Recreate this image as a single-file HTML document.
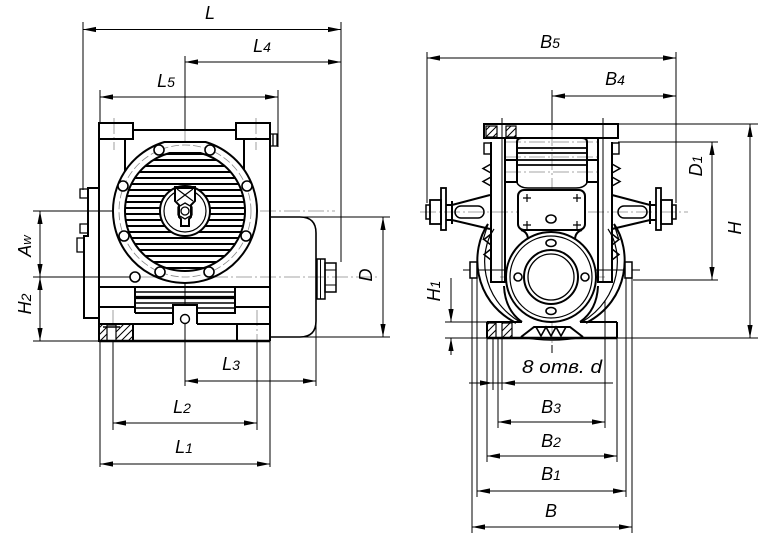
<!DOCTYPE html>
<html><head><meta charset="utf-8"><style>
html,body{margin:0;padding:0;background:#fff;}
svg{display:block;}
text{font-family:"Liberation Sans","DejaVu Sans",sans-serif;font-style:italic;fill:#000;stroke:none;font-size:18px;}
</style></head><body>
<svg width="760" height="536" viewBox="0 0 760 536" xmlns="http://www.w3.org/2000/svg">
<defs>
<marker id="a" markerUnits="userSpaceOnUse" markerWidth="14" markerHeight="6" refX="13" refY="3" orient="auto-start-reverse"><path d="M0,0.4 L13,3 L0,5.6 Z" fill="#000"/></marker>
<pattern id="hp" patternUnits="userSpaceOnUse" width="7" height="7"><path d="M0,7 L7,0 M-1,1 L1,-1 M6,8 L8,6" stroke="#000" stroke-width="1"/></pattern>
<clipPath id="fc"><path d="M169.6,153 H200.4 A60,60 0 1,1 169.6,153 Z"/></clipPath>
</defs>
<rect width="760" height="536" fill="#fff"/>

<!-- ================= LEFT VIEW ================= -->
<g fill="none" stroke="#888" stroke-width="0.8" stroke-dasharray="16,3,2,3">
<path d="M140,211H335"/>
<path d="M140,277H380"/>
<path d="M185,130V283"/>
<path d="M114,118V150M256,118V150"/>
<path d="M113,310V341M257,310V341"/>
</g>
<g fill="none" stroke="#000" stroke-width="1">
<path d="M83,22V190M341,22V262"/>
<path d="M83,29.5H341" marker-start="url(#a)" marker-end="url(#a)"/>
<path d="M185,56V130M185,283V386"/>
<path d="M185,62H341" marker-start="url(#a)" marker-end="url(#a)"/>
<path d="M100,90V123M278,90V147"/>
<path d="M100,97H278" marker-start="url(#a)" marker-end="url(#a)"/>
<path d="M33,211H140M33,277H140M33,341H99"/>
<path d="M40,211V277" marker-start="url(#a)" marker-end="url(#a)"/>
<path d="M40,277V341" marker-start="url(#a)" marker-end="url(#a)"/>
<path d="M300,217H390M300,337H390"/>
<path d="M383,217V337" marker-start="url(#a)" marker-end="url(#a)"/>
<path d="M316,321V386"/>
<path d="M185,381H316" marker-start="url(#a)" marker-end="url(#a)"/>
<path d="M113,341V430M257,341V430"/>
<path d="M113,423H257" marker-start="url(#a)" marker-end="url(#a)"/>
<path d="M100,341V467M270,341V467"/>
<path d="M100,464H270" marker-start="url(#a)" marker-end="url(#a)"/>
</g>

<g fill="none" stroke="#000" stroke-width="2">
<rect x="99" y="123" width="34" height="16"/>
<rect x="236" y="123" width="34" height="16"/>
<path d="M133,130H236"/>
<path d="M99,139V341M270,139V341"/>
<path d="M125,139V182M244,139V182"/>
<path d="M270,134H277V146H270M273,134V146" stroke-width="1.3"/>
<path d="M99,188H88V236H84V318H99"/>
<path d="M80,189H88V198H80ZM80,224H88V233H80ZM77,238H84V252H77Z" stroke-width="1.3"/>
<path d="M164.4,142H205.6A72,72 0 1,1 164.4,142Z" fill="#fff"/>
<path d="M169.6,153H200.4A60,60 0 1,1 169.6,153Z"/>
</g>
<circle cx="185" cy="211" r="66" fill="none" stroke="#888" stroke-width="0.8" stroke-dasharray="8,3"/>
<g clip-path="url(#fc)" stroke="#000" stroke-width="2">
<path d="M110,154H260M110,160H260M110,166H260M110,172H260M110,178H260M110,184H260M110,190H260M110,196H260M110,202H260M110,208H260M110,214H260M110,220H260M110,226H260M110,232H260M110,238H260M110,244H260M110,250H260M110,256H260M110,262H260M110,268H260"/>
</g>
<g fill="#fff" stroke="#000" stroke-width="1.6">
<circle cx="159" cy="150" r="5"/><circle cx="210" cy="150" r="5"/>
<circle cx="123" cy="186" r="5"/><circle cx="247" cy="186" r="5"/>
<circle cx="124" cy="236" r="5"/><circle cx="246" cy="236" r="5"/>
<circle cx="160" cy="272" r="5"/><circle cx="209" cy="272" r="5"/>
<circle cx="135" cy="277" r="5"/>
</g>
<g fill="none" stroke="#000" stroke-width="2">
<circle cx="185" cy="211" r="25" fill="#fff"/>
<circle cx="185" cy="211" r="21" stroke-width="1.2"/>
<path d="M175,187H195V201L191,205V217L189,219V226H181V219L179,217V205L175,201Z" fill="#fff"/>
<path d="M175,187.5H195" stroke-width="3"/>
<path d="M177,189L193,201M193,189L177,201" stroke-width="1.2"/>
<path d="M185,203L192,207V215L185,219L178,215V207Z" stroke-width="1.3"/>
<circle cx="185" cy="211" r="4" stroke-width="1.3"/>
</g>
<g fill="none" stroke="#000" stroke-width="2">
<path d="M99,287H135M235,287H270"/>
<path d="M135,313V287H235V313H197M173,313H135"/>
<path d="M135,292H235M135,303H235M135,308H235" stroke-width="1.5"/>
<path d="M135,297.5H235" stroke-width="3.2"/>
<path d="M99,307H135M235,307H270"/>
<path d="M173,324V305H197V324" fill="#fff"/>
<path d="M99,324H173M197,324H270"/>
<circle cx="185" cy="319" r="4.5" stroke-width="1.4"/>
<path d="M237,324V341"/>
<rect x="99" y="324" width="34" height="17" fill="url(#hp)"/>
<rect x="107" y="325" width="9" height="16" fill="#fff" stroke-width="1.2"/>
<path d="M103,327H120" stroke-width="1.4"/>
<path d="M99,341H270" stroke-width="2.6"/>
<path d="M270,217H300Q316,217 316,233V321Q316,337 300,337H270" stroke-width="1.6"/>
<rect x="317" y="259" width="8" height="40" stroke-width="1.5"/>
<rect x="325" y="263" width="11" height="29" stroke-width="1.5"/>
<path d="M320.5,259V299M325,270H336M325,285H336" stroke-width="1"/>
</g>

<text x="210" y="19" text-anchor="middle">L</text>
<text x="262" y="52" text-anchor="middle">L<tspan font-size="14">4</tspan></text>
<text x="166" y="87" text-anchor="middle">L<tspan font-size="14">5</tspan></text>
<text x="231" y="370" text-anchor="middle">L<tspan font-size="14">3</tspan></text>
<text x="182" y="413" text-anchor="middle">L<tspan font-size="14">2</tspan></text>
<text x="184" y="453" text-anchor="middle">L<tspan font-size="14">1</tspan></text>
<text transform="translate(31,246) rotate(-90)" text-anchor="middle">A<tspan font-size="13">w</tspan></text>
<text transform="translate(31,304) rotate(-90)" text-anchor="middle">H<tspan font-size="14">2</tspan></text>
<text transform="translate(372,275) rotate(-90)" text-anchor="middle">D</text>

<!-- ================= RIGHT VIEW ================= -->
<g fill="none" stroke="#888" stroke-width="0.8" stroke-dasharray="16,3,2,3">
<path d="M420,212H688"/>
<path d="M500,277H605"/>
<path d="M552,130V345"/>
<path d="M505,142H600M505,157H600M505,172H600"/>
</g>
<g fill="none" stroke="#000" stroke-width="1">
<path d="M427,52V203M676,52V203"/>
<path d="M427,58H676" marker-start="url(#a)" marker-end="url(#a)"/>
<path d="M552,90V130M552,345V353"/>
<path d="M552,96H676" marker-start="url(#a)" marker-end="url(#a)"/>
<path d="M618,124H758M445,338H758"/>
<path d="M750,124V338" marker-start="url(#a)" marker-end="url(#a)"/>
<path d="M618,142H718M633,280H718"/>
<path d="M712,142V280" marker-start="url(#a)" marker-end="url(#a)"/>
<path d="M445,322H500"/>
<path d="M451,278V322" marker-end="url(#a)"/>
<path d="M451,355V338" marker-end="url(#a)"/>
<path d="M463,270H640"/>
<path d="M502,118V155M603,118V155"/>
<path d="M472,262V533M477,262V497M487,338V462M493,338V390M498,338V428M502,338V390M605,300V428M617,338V462M626,278V497M632,278V533"/>
<path d="M469,383H613"/>
<path d="M478,383H493" marker-end="url(#a)"/>
<path d="M517,383H502" marker-end="url(#a)"/>
<path d="M498,422H605" marker-start="url(#a)" marker-end="url(#a)"/>
<path d="M487,456H617" marker-start="url(#a)" marker-end="url(#a)"/>
<path d="M477,491H626" marker-start="url(#a)" marker-end="url(#a)"/>
<path d="M472,527H632" marker-start="url(#a)" marker-end="url(#a)"/>
</g>

<g fill="none" stroke="#000" stroke-width="2">
<rect x="484" y="124" width="134" height="14"/>
<rect x="486" y="126" width="11" height="11" fill="url(#hp)" stroke-width="1.2"/>
<rect x="506" y="126" width="10" height="11" fill="url(#hp)" stroke-width="1.2"/>
<path d="M491,142V282H505V138"/>
<path d="M612,142V282H598V138"/>
<path d="M502,138V282M603,138V282" stroke-width="1"/>
<path d="M517,183V142Q517,138 522,138H582Q587,138 587,142V183"/>
<path d="M517,148H587M517,153H587M517,160H587M517,165H587" stroke-width="1.8"/>
<path d="M505,160H517M505,182H517M587,160H598M587,182H598"/>
<path d="M517,183Q520,188 528,188H576Q584,188 587,183" stroke-width="1.5"/>
<rect x="484" y="143" width="7" height="11" stroke-width="1.4"/>
<rect x="612" y="143" width="7" height="11" stroke-width="1.4"/>
<path d="M491,164L483,168.5L491,173M491,177L483,181.5L491,186" stroke-width="1.5"/>
<path d="M612,164L620,168.5L612,173M612,177L620,181.5L612,186" stroke-width="1.5"/>
<path d="M491,234L484,239.5L491,245M491,249L484,254.5L491,260" stroke-width="1.5"/>
<path d="M612,234L619,239.5L612,245M612,249L619,254.5L612,260" stroke-width="1.5"/>
<rect x="426" y="205" width="4" height="14" stroke-width="1.5"/>
<rect x="430" y="200" width="11" height="24" stroke-width="1.8"/>
<rect x="441" y="188" width="5" height="42" stroke-width="1.8"/>
<path d="M446,205H452L490,195M446,220H452L490,229M452,201V224"/>
<rect x="455" y="206" width="29" height="12" rx="6" stroke-width="1.5"/>
<rect x="672" y="205" width="4" height="14" stroke-width="1.5"/>
<rect x="661" y="200" width="11" height="24" stroke-width="1.8"/>
<rect x="656" y="188" width="5" height="42" stroke-width="1.8"/>
<path d="M656,205H650L612,195M656,220H650L612,229M650,201V224"/>
<rect x="618" y="206" width="29" height="12" rx="6" stroke-width="1.5"/>
<path d="M488,224C470,250 472,300 516,323"/>
<path d="M494,229C478,252 480,298 520,322" stroke-width="1.2"/>
<path d="M614,224C632,250 630,300 586,323"/>
<path d="M608,229C624,252 622,298 582,322" stroke-width="1.2"/>
<path d="M488,224L483,240M614,224L619,240" stroke-width="1.2"/>
<rect x="470" y="262" width="7" height="16" stroke-width="1.5" fill="#fff"/>
<rect x="625" y="262" width="7" height="16" stroke-width="1.5" fill="#fff"/>
<rect x="518" y="190" width="67" height="40" rx="6" fill="#fff"/>
<path d="M521,230Q528,232 528,240M582,230Q575,232 575,240"/>
<circle cx="551" cy="277" r="45" fill="#fff"/>
<circle cx="551" cy="277" r="41" stroke-width="1.2"/>
<circle cx="551" cy="277" r="27"/>
<circle cx="551" cy="277" r="23" stroke-width="1.3"/>
<path d="M504,286Q505,310 522,322M598,286Q597,310 580,322"/>
<path d="M487,322H522M580,322H617M487,322V338M617,322V338"/>
<path d="M487,338H617" stroke-width="2.6"/>
<rect x="487" y="323" width="9" height="15" fill="url(#hp)" stroke-width="1.2"/>
<rect x="502" y="323" width="10" height="15" fill="url(#hp)" stroke-width="1.2"/>
<path d="M521,337L534,327H570L583,337"/>
<path d="M536,327L541,336L546,327L551,336L556,327L561,336L566,327" stroke-width="1.6"/>
<path d="M521,337Q551,343 583,337" stroke-width="1.4"/>
</g>
<g fill="none" stroke="#000" stroke-width="1.2">
<path d="M523,198h8M527,194v8M573,198h8M577,194v8M523,225h8M527,221v8M573,225h8M577,221v8"/>
<ellipse cx="551" cy="219" rx="5" ry="4" stroke-width="1.6"/>
<ellipse cx="551" cy="243" rx="5" ry="3.5" stroke-width="1.6"/>
<ellipse cx="551" cy="311" rx="5" ry="3.5" stroke-width="1.6"/>
<circle cx="518" cy="277" r="4" stroke-width="1.6"/>
<circle cx="585" cy="277" r="4" stroke-width="1.6"/>
</g>

<text x="550" y="48" text-anchor="middle">B<tspan font-size="14">5</tspan></text>
<text x="615" y="85" text-anchor="middle">B<tspan font-size="14">4</tspan></text>
<text x="551" y="413" text-anchor="middle">B<tspan font-size="14">3</tspan></text>
<text x="551" y="447" text-anchor="middle">B<tspan font-size="14">2</tspan></text>
<text x="551" y="480" text-anchor="middle">B<tspan font-size="14">1</tspan></text>
<text x="551" y="517" text-anchor="middle">B</text>
<text x="522" y="373" textLength="80" lengthAdjust="spacingAndGlyphs">8 отв. d</text>
<text transform="translate(702,166) rotate(-90)" text-anchor="middle">D<tspan font-size="14">1</tspan></text>
<text transform="translate(741,228) rotate(-90)" text-anchor="middle">H</text>
<text transform="translate(440,291) rotate(-90)" text-anchor="middle">H<tspan font-size="14">1</tspan></text>
</svg>
</body></html>
